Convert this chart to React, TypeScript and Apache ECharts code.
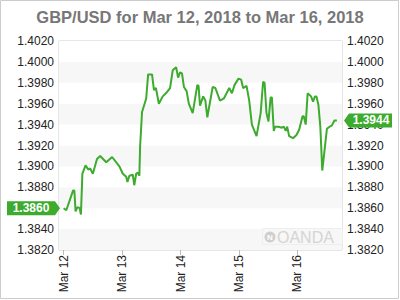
import React, { useEffect, useRef } from "react";
import * as echarts from "echarts";

// Hours since Mar 12, 2018 00:00
const hours = [
  0, 1.1, 3.9, 4.4, 4.9, 5.7, 6.6, 7.1, 7.7, 9.0, 10.1, 10.9, 12.0, 13.7, 15.0, 17.5, 19.9, 22.9,
  24.3, 25.7, 26.2, 27.0, 28.4, 29.0, 29.8, 30.6, 31.1, 31.4, 32.2, 33.9, 34.7, 35.5, 36.3, 37.1,
  37.9, 39.1, 40.7, 42.4, 43.7, 44.8, 46.2, 47.0, 47.8, 48.6, 49.4, 50.5, 51.4, 53.0, 54.9, 55.4,
  56.0, 57.3, 58.2, 59.0, 61.2, 62.3, 64.2, 65.8, 68.0, 69.1, 70.2, 71.8, 72.9, 73.7, 75.1, 76.2,
  77.3, 79.2, 80.9, 81.9, 82.5, 83.3, 84.1, 85.0, 85.5, 86.3, 86.8, 88.2, 89.6, 90.4, 91.2, 91.8,
  92.6, 94.2, 95.6, 96.7, 98.1, 98.6, 99.4, 100.2, 101.6, 102.4, 103.2, 103.8, 104.6, 105.4, 106.2,
  107.3, 108.1, 109.2, 110.1, 111.2, 112.2,
];
const rates = [
  1.386, 1.3858, 1.3877, 1.3877, 1.3857, 1.3861, 1.386, 1.3854, 1.3893, 1.3901, 1.3897, 1.3898,
  1.3893, 1.3907, 1.391, 1.3904, 1.3909, 1.39, 1.3893, 1.389, 1.3885, 1.3891, 1.3892, 1.3882,
  1.3893, 1.3894, 1.3891, 1.3919, 1.3952, 1.3965, 1.3988, 1.3988, 1.3988, 1.3973, 1.3975, 1.396,
  1.3967, 1.3971, 1.3975, 1.3992, 1.3995, 1.3985, 1.399, 1.3989, 1.3976, 1.3972, 1.396, 1.3951,
  1.3978, 1.3977, 1.3958, 1.3967, 1.3963, 1.3947, 1.3976, 1.3975, 1.3963, 1.3965, 1.3975, 1.397,
  1.3978, 1.3984, 1.3983, 1.3975, 1.3977, 1.3963, 1.394, 1.3929, 1.3951, 1.3981, 1.398, 1.3951,
  1.3943, 1.3966, 1.3966, 1.3934, 1.3938, 1.3938, 1.3937, 1.3938, 1.3934, 1.3938, 1.3929, 1.3927,
  1.393, 1.3935, 1.3948, 1.3948, 1.394, 1.397, 1.3967, 1.3962, 1.3967, 1.3967, 1.3959, 1.3938,
  1.3896, 1.3919, 1.3936, 1.3938, 1.3939, 1.3944, 1.3944,
];
const dayTicks = [0, 24, 48, 72, 96];
const dayLabels = ["Mar 12", "Mar 13", "Mar 14", "Mar 15", "Mar 16"];
const titleText = "GBP/USD for Mar 12, 2018 to Mar 16, 2018";
const watermarkText = "OANDA";

const GREEN = "#3cab2e";
const FONT = "'Liberation Sans', Arial, sans-serif";
const GRID = { left: 59, right: 58, top: 41, bottom: 50 };

export default function App() {
  const ref = useRef<HTMLDivElement>(null);
  useEffect(() => {
    if (!ref.current) return;
    const chart = echarts.init(ref.current, null, { renderer: "svg" });
    const yAxisBase = {
      type: "value",
      min: 1.382,
      max: 1.402,
      interval: 0.002,
      axisLine: { show: false },
      axisTick: { show: false },
      splitLine: { show: false },
      axisLabel: {
        color: "#222",
        fontSize: 12,
        fontFamily: FONT,
        formatter: (v: number) => v.toFixed(4),
      },
    };
    chart.setOption({
      animation: false,
      title: {
        text: titleText,
        left: "center",
        top: 3,
        textStyle: { fontSize: 16.5, fontWeight: "bold", color: "#777", fontFamily: FONT },
      },
      grid: { ...GRID, show: true, borderColor: "#ccc", borderWidth: 1, backgroundColor: "transparent" },
      xAxis: {
        type: "value",
        min: -1.9,
        max: 114.3,
        splitLine: { show: false },
        axisLine: { show: false },
        axisTick: { show: true, customValues: dayTicks, length: 5, lineStyle: { color: "#bbb" } },
        axisLabel: {
          customValues: dayTicks,
          rotate: 90,
          margin: 5,
          color: "#222",
          fontSize: 12,
          fontFamily: FONT,
          formatter: (v: number) => dayLabels[dayTicks.indexOf(Math.round(v))] ?? "",
        },
      },
      yAxis: [
        {
          ...yAxisBase,
          position: "left",
          splitArea: { show: true, areaStyle: { color: ["#f7f7f7", "#ffffff"] } },
          axisLabel: { ...yAxisBase.axisLabel, margin: 5 },
        },
        {
          ...yAxisBase,
          position: "right",
          axisLabel: { ...yAxisBase.axisLabel, margin: 5 },
        },
      ],
      series: [
        {
          type: "line",
          data: hours.map((h, i) => [h, rates[i]]),
          showSymbol: false,
          lineStyle: { color: GREEN, width: 2 },
          itemStyle: { color: GREEN },
          z: 3,
        },
      ],
    });

    const firstVal = rates[0];
    const lastVal = rates[rates.length - 1];
    const yFirst = chart.convertToPixel({ yAxisIndex: 0 }, firstVal) as number;
    const yLast = chart.convertToPixel({ yAxisIndex: 0 }, lastVal) as number;
    const plotLeft = GRID.left;
    const plotRight = 400 - GRID.right;

    chart.setOption({
      graphic: [
        {
          type: "rect",
          shape: { x: 0.5, y: 0.5, width: 398, height: 298 },
          style: { fill: "none", stroke: "#ccc", lineWidth: 1 },
          silent: true,
        },
        // left tag
        {
          type: "polygon",
          shape: {
            points: [
              [7, yFirst - 7],
              [plotLeft - 4, yFirst - 7],
              [plotLeft + 1, yFirst],
              [plotLeft - 4, yFirst + 7],
              [7, yFirst + 7],
            ],
          },
          style: { fill: GREEN },
          z: 10,
        },
        {
          type: "text",
          x: 31,
          y: yFirst,
          style: {
            text: firstVal.toFixed(4),
            fill: "#fff",
            font: `bold 12px ${FONT}`,
            align: "center",
            verticalAlign: "middle",
          },
          z: 11,
        },
        // right tag
        {
          type: "polygon",
          shape: {
            points: [
              [plotRight + 2, yLast],
              [plotRight + 7, yLast - 7],
              [392, yLast - 7],
              [392, yLast + 7],
              [plotRight + 7, yLast + 7],
            ],
          },
          style: { fill: GREEN },
          z: 10,
        },
        {
          type: "text",
          x: 371,
          y: yLast,
          style: {
            text: lastVal.toFixed(4),
            fill: "#fff",
            font: `bold 12px ${FONT}`,
            align: "center",
            verticalAlign: "middle",
          },
          z: 11,
        },
        // watermark
        {
          type: "rect",
          shape: { x: 262.5, y: 228.5, width: 80, height: 16 },
          style: { fill: "none", stroke: "#eee", lineWidth: 1 },
          silent: true,
        },
        {
          type: "circle",
          shape: { cx: 270, cy: 237, r: 5.5 },
          style: { fill: "#cfcfcf" },
          silent: true,
        },
        {
          type: "text",
          x: 270,
          y: 237,
          style: {
            text: "N",
            fill: "#fff",
            font: `bold 8px ${FONT}`,
            align: "center",
            verticalAlign: "middle",
          },
          silent: true,
        },
        {
          type: "text",
          x: 277,
          y: 237.5,
          style: {
            text: watermarkText,
            fill: "#d4d4d4",
            font: `16px ${FONT}`,
            align: "left",
            verticalAlign: "middle",
          },
          silent: true,
        },
      ],
    });

    return () => chart.dispose();
  }, []);
  return <div ref={ref} style={{ width: 400, height: 300, position: "absolute", left: 0, top: 0 }} />;
}
